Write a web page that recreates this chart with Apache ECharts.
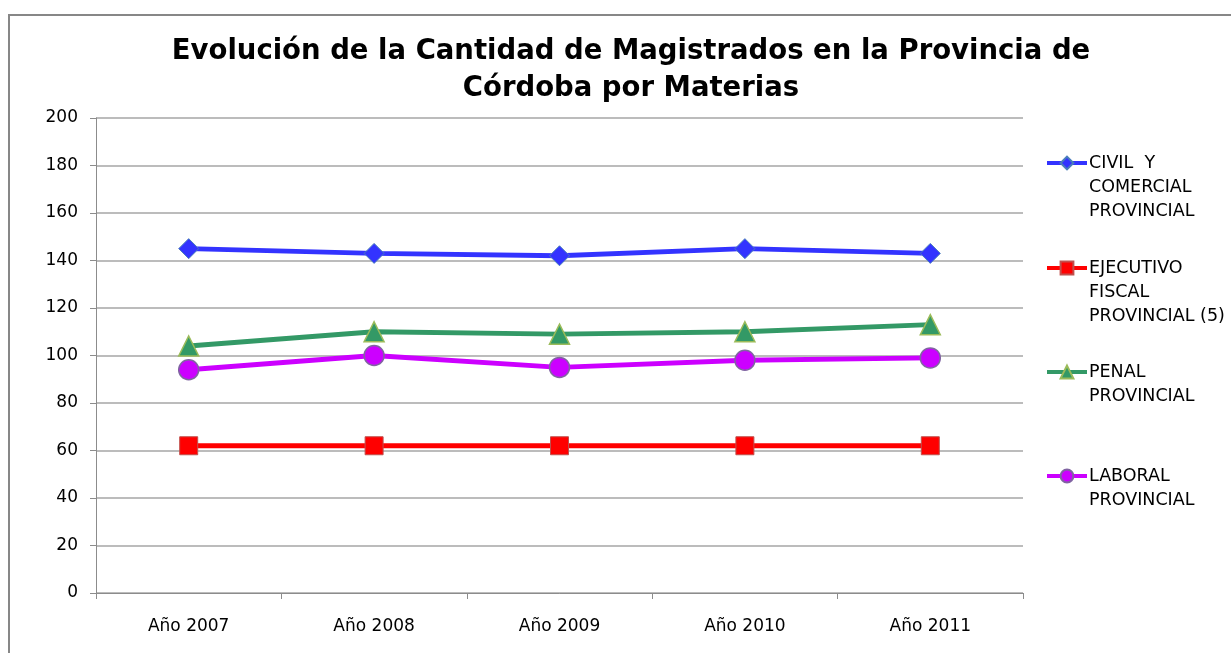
<!DOCTYPE html>
<html><head><meta charset="utf-8">
<script src="https://cdn.jsdelivr.net/npm/echarts@6/dist/echarts.min.js"></script>
<style>html,body{margin:0;padding:0;background:#fff}#c{width:1231px;height:653px}</style>
</head><body><div id="c"></div>
<script>
const categories = ['Año 2007', 'Año 2008', 'Año 2009', 'Año 2010', 'Año 2011'];
const civil = [145, 143, 142, 145, 143];
const ejecutivo = [62, 62, 62, 62, 62];
const penal = [104, 110, 109, 110, 113];
const laboral = [94, 100, 95, 98, 99];
const seriesNames = ['CIVIL  Y COMERCIAL PROVINCIAL', 'EJECUTIVO FISCAL PROVINCIAL (5)', 'PENAL PROVINCIAL', 'LABORAL PROVINCIAL'];
const legendLabels = ['CIVIL  Y\nCOMERCIAL\nPROVINCIAL', 'EJECUTIVO\nFISCAL\nPROVINCIAL (5)', 'PENAL\nPROVINCIAL', 'LABORAL\nPROVINCIAL'];

const FONT = 'DejaVu Sans';
const chart = echarts.init(document.getElementById('c'));
const legendTops = [163, 268, 372, 476];
const LH = 24;
const IH = 16;
const legends = seriesNames.map((n, i) => ({
  data: [n],
  orient: 'vertical',
  left: 1045,
  top: legendTops[i] - IH / 2,
  padding: 0,
  itemWidth: 40,
  itemHeight: IH,
  lineStyle: {width: 4},
  formatter: () => '',
  textStyle: {fontSize: 1}
}));
const legendTexts = legendLabels.map((t, i) => ({
  type: 'text', left: 1089, top: legendTops[i] - LH / 2, silent: true,
  style: {text: t, fontFamily: FONT, fontSize: 17.5, lineHeight: LH, fill: '#000'}
}));

chart.setOption({
  animation: false,
  backgroundColor: '#fff',
  title: {
    text: 'Evolución de la Cantidad de Magistrados en la Provincia de\nCórdoba por Materias',
    left: 626, top: 28, textAlign: 'center',
    textStyle: {fontFamily: FONT, fontSize: 27.5, fontWeight: 'bold', color: '#000', lineHeight: 37}
  },
  graphic: [{type: 'rect', shape: {x: 9, y: 15, width: 1240, height: 660}, style: {fill: 'none', stroke: '#878787', lineWidth: 2}, silent: true}].concat(legendTexts),
  legend: legends,
  grid: {left: 96, right: 208, top: 118, bottom: 60},
  xAxis: {
    type: 'category', data: categories, boundaryGap: true,
    axisLine: {lineStyle: {color: '#8c8c8c', width: 1}},
    axisTick: {show: true, length: 6, lineStyle: {color: '#8c8c8c'}},
    axisLabel: {fontFamily: FONT, fontSize: 17, color: '#000', margin: 25}
  },
  yAxis: {
    type: 'value', min: 0, max: 200, interval: 20,
    axisLine: {show: true, lineStyle: {color: '#8c8c8c'}},
    axisTick: {show: true, length: 6, inside: false, lineStyle: {color: '#8c8c8c'}},
    axisLabel: {fontFamily: FONT, fontSize: 17, color: '#000', margin: 18},
    splitLine: {lineStyle: {color: '#a6a6a6', width: 1.5}}
  },
  series: [
    {name: seriesNames[0], type: 'line', data: civil, symbol: 'diamond', symbolSize: 20,
     lineStyle: {color: '#3333ff', width: 5}, itemStyle: {color: '#3333ff', borderColor: '#4a7ebb', borderWidth: 1}},
    {name: seriesNames[1], type: 'line', data: ejecutivo, symbol: 'rect', symbolSize: 18,
     lineStyle: {color: '#ff0000', width: 5}, itemStyle: {color: '#ff0000', borderColor: '#c0504d', borderWidth: 1}},
    {name: seriesNames[2], type: 'line', data: penal, symbol: 'triangle', symbolSize: 20,
     lineStyle: {color: '#339966', width: 5}, itemStyle: {color: '#339966', borderColor: '#9bbb59', borderWidth: 1.5}},
    {name: seriesNames[3], type: 'line', data: laboral, symbol: 'circle', symbolSize: 20,
     lineStyle: {color: '#cc00ff', width: 5}, itemStyle: {color: '#cc00ff', borderColor: '#8064a2', borderWidth: 1.5}}
  ]
});
</script></body></html>
